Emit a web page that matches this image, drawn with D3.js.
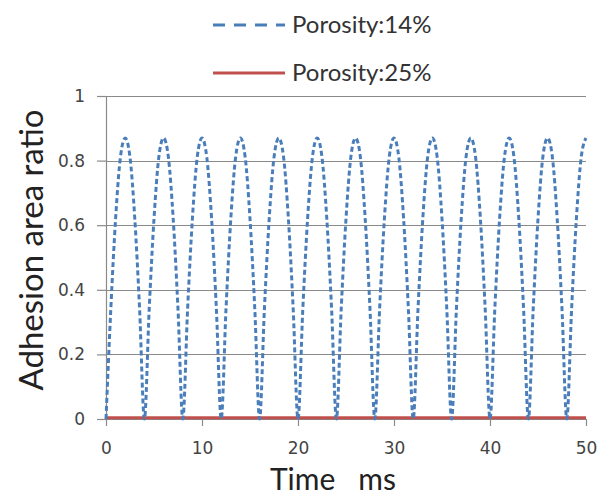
<!DOCTYPE html>
<html>
<head>
<meta charset="utf-8">
<script src="https://cdn.jsdelivr.net/npm/d3@7"></script>
<style>
  body { margin: 0; background: #fff; }
  svg { display: block; }
</style>
</head>
<body>
<div id="chart"></div>
<script>
// time axis (ms) shared by the sampled series
var timeMs = [
  0, 0.5, 1, 1.5, 2, 2.5, 3, 3.5, 4, 4.5, 5, 5.5, 6, 6.5, 7, 7.5, 8, 8.5, 9, 9.5,
  10, 10.5, 11, 11.5, 12, 12.5, 13, 13.5, 14, 14.5, 15, 15.5, 16, 16.5, 17, 17.5, 18, 18.5, 19, 19.5,
  20, 20.5, 21, 21.5, 22, 22.5, 23, 23.5, 24, 24.5, 25, 25.5, 26, 26.5, 27, 27.5, 28, 28.5, 29, 29.5,
  30, 30.5, 31, 31.5, 32, 32.5, 33, 33.5, 34, 34.5, 35, 35.5, 36, 36.5, 37, 37.5, 38, 38.5, 39, 39.5,
  40, 40.5, 41, 41.5, 42, 42.5, 43, 43.5, 44, 44.5, 45, 45.5, 46, 46.5, 47, 47.5, 48, 48.5, 49, 49.5,
  50
];

// Porosity 14% - adhesion area ratio
var porosity14 = [
  0, 0.34, 0.62, 0.81, 0.87, 0.81, 0.62, 0.34,
  0, 0.34, 0.62, 0.81, 0.87, 0.81, 0.62, 0.34,
  0, 0.34, 0.62, 0.81, 0.87, 0.81, 0.62, 0.34,
  0, 0.34, 0.62, 0.81, 0.87, 0.81, 0.62, 0.34,
  0, 0.34, 0.62, 0.81, 0.87, 0.81, 0.62, 0.34,
  0, 0.34, 0.62, 0.81, 0.87, 0.81, 0.62, 0.34,
  0, 0.34, 0.62, 0.81, 0.87, 0.81, 0.62, 0.34,
  0, 0.34, 0.62, 0.81, 0.87, 0.81, 0.62, 0.34,
  0, 0.34, 0.62, 0.81, 0.87, 0.81, 0.62, 0.34,
  0, 0.34, 0.62, 0.81, 0.87, 0.81, 0.62, 0.34,
  0, 0.34, 0.62, 0.81, 0.87, 0.81, 0.62, 0.34,
  0, 0.34, 0.62, 0.81, 0.87, 0.81, 0.62, 0.34,
  0, 0.34, 0.62, 0.81, 0.87
];

// Porosity 25% - stays on the floor
var time25 = [0, 10, 20, 30, 40, 50];
var porosity25 = [0.004, 0.004, 0.004, 0.004, 0.004, 0.004];

var xTicks = [0, 10, 20, 30, 40, 50];
var yTicks = [0, 0.2, 0.4, 0.6, 0.8, 1];
var legendLabels = ['Porosity:14%', 'Porosity:25%'];

var width = 601, height = 497;
var margin = {top: 96, right: 15, bottom: 78, left: 106};

var svg = d3.select('#chart').append('svg')
  .attr('width', width)
  .attr('height', height);

var xScale = d3.scaleLinear()
  .domain([0, 50])
  .range([margin.left, width - margin.right]);

var yScale = d3.scaleLinear()
  .domain([0, 1])
  .range([height - margin.bottom, margin.top]);

// gridlines
svg.append('g')
  .selectAll('line')
  .data(yTicks.slice(1))
  .enter()
  .append('line')
  .attr('x1', xScale(0))
  .attr('x2', xScale(50))
  .attr('y1', function(d) { return Math.round(yScale(d)) + 0.5; })
  .attr('y2', function(d) { return Math.round(yScale(d)) + 0.5; })
  .attr('stroke', '#8a8a8a')
  .attr('stroke-width', 1);

var yAxis = d3.axisLeft(yScale)
  .tickValues(yTicks)
  .tickSize(9)
  .tickPadding(12)
  .tickFormat(function(d) { return d === 0 || d === 1 ? d : d.toFixed(1); });

var xAxis = d3.axisBottom(xScale)
  .tickValues(xTicks)
  .tickSize(7)
  .tickPadding(16);

var yG = svg.append('g')
  .attr('transform', 'translate(' + margin.left + ',0)')
  .call(yAxis);

var xG = svg.append('g')
  .attr('transform', 'translate(0,' + yScale(0) + ')')
  .call(xAxis);

[yG, xG].forEach(function(g) {
  g.select('.domain').attr('stroke', '#8a8a8a').attr('stroke-width', 1.2);
  g.selectAll('.tick line').attr('stroke', '#8a8a8a').attr('stroke-width', 1.2);
  g.selectAll('.tick text')
    .attr('fill', '#444')
    .style('font-family', '"DejaVu Sans", Verdana, sans-serif')
    .style('font-size', '17px');
});
yG.select('.domain').attr('d', 'M0.5,' + yScale(1) + 'V' + yScale(0));
xG.select('.domain').attr('d', 'M' + xScale(0) + ',0.5H' + xScale(50));

var line = d3.line()
  .x(function(d) { return xScale(d[0]); })
  .y(function(d) { return yScale(d[1]); });

svg.append('path')
  .datum(d3.zip(time25, porosity25))
  .attr('d', line)
  .attr('fill', 'none')
  .attr('stroke', '#c0504d')
  .attr('stroke-width', 3);

svg.append('path')
  .datum(d3.zip(timeMs, porosity14))
  .attr('d', line.curve(d3.curveMonotoneX))
  .attr('fill', 'none')
  .attr('stroke', '#4a7ebb')
  .attr('stroke-width', 3)
  .attr('stroke-dasharray', '5,3');

// legend
var legend = svg.append('g');
var legendY = [25, 73];
var legendStyles = [
  {stroke: '#4a7ebb', dash: '12,9'},
  {stroke: '#c0504d', dash: null}
];
legendLabels.forEach(function(label, i) {
  legend.append('line')
    .attr('x1', 213).attr('x2', 285)
    .attr('y1', legendY[i]).attr('y2', legendY[i])
    .attr('stroke', legendStyles[i].stroke)
    .attr('stroke-width', 3)
    .attr('stroke-dasharray', legendStyles[i].dash);
  legend.append('text')
    .attr('x', 292)
    .attr('y', legendY[i] + 8)
    .attr('fill', '#333')
    .style('font-family', 'Lato, "Open Sans", sans-serif')
    .style('font-size', '24px')
    .text(label);
});

// axis titles
svg.append('text')
  .attr('transform', 'translate(43,250) rotate(-90)')
  .attr('text-anchor', 'middle')
  .attr('fill', '#222')
  .style('font-family', 'Lato, "Open Sans", sans-serif')
  .style('font-size', '33px')
  .text('Adhesion area ratio');

svg.append('text')
  .attr('x', 333)
  .attr('y', 490)
  .attr('text-anchor', 'middle')
  .attr('fill', '#222')
  .style('font-family', 'Lato, "Open Sans", sans-serif')
  .style('font-size', '30px')
  .style('white-space', 'pre')
  .text('Time   ms');
</script>
</body>
</html>
